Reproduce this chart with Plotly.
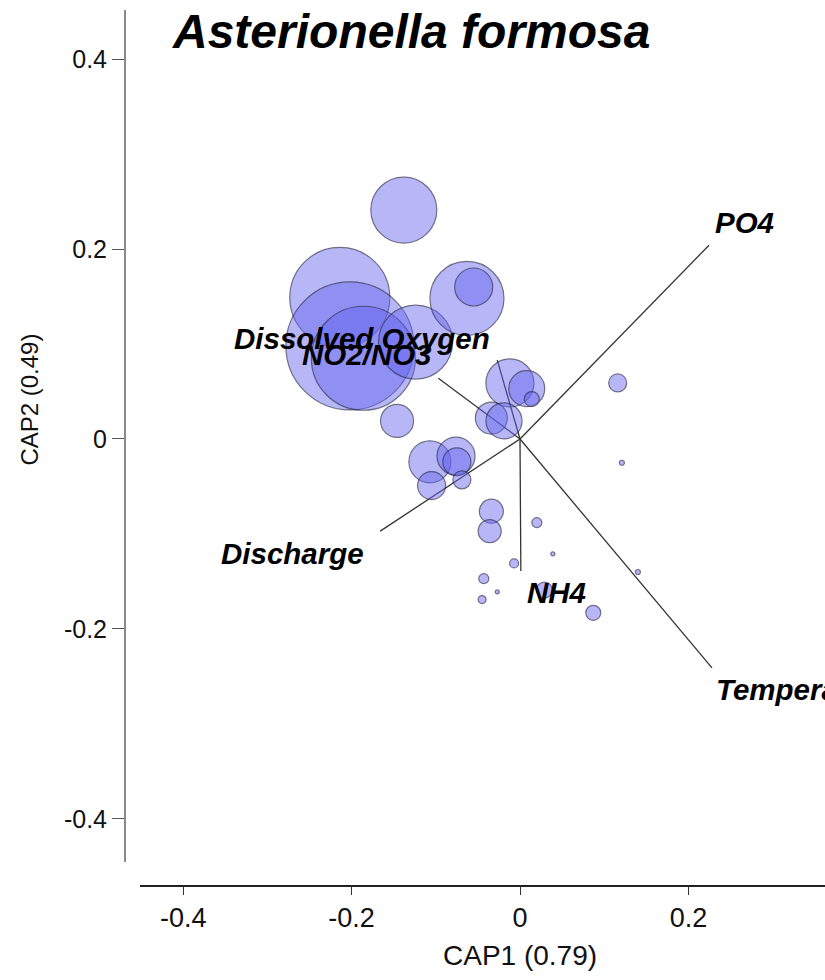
import plotly.graph_objects as go

# ---- data ----
site_cap1 = [-0.138, -0.214, -0.202, -0.186, -0.124, -0.063, -0.055, -0.146,
             -0.012, 0.008, 0.014, -0.034, -0.019, -0.107, -0.076, -0.105,
             -0.075, -0.069, -0.034, -0.036, 0.020, 0.039, -0.007, -0.043,
             -0.027, -0.045, 0.029, 0.087, 0.116, 0.121, 0.140]
site_cap2 = [0.241, 0.149, 0.098, 0.085, 0.102, 0.148, 0.160, 0.019,
             0.059, 0.053, 0.042, 0.022, 0.019, -0.024, -0.018, -0.049,
             -0.024, -0.043, -0.076, -0.097, -0.088, -0.121, -0.131, -0.147,
             -0.161, -0.169, -0.159, -0.183, 0.059, -0.025, -0.140]
abundance = [66, 100, 128, 104, 74, 74, 38, 33,
             48, 36, 15, 32, 36, 42, 38, 28,
             28, 18, 24, 23, 10, 4, 9, 10,
             4, 8, 16, 15, 18, 5, 5]

vec_names = ["PO4", "Temperature", "NH4", "Discharge", "Dissolved Oxygen", "NO2/NO3"]
vec_cap1 = [0.2245, 0.228, 0.001, -0.166, -0.027, -0.097]
vec_cap2 = [0.204, -0.241, -0.139, -0.097, 0.083, 0.064]

x_ticks = [-0.4, -0.2, 0, 0.2]
x_ticktext = ["-0.4", "-0.2", "0", "0.2"]
y_ticks = [-0.4, -0.2, 0, 0.2, 0.4]
y_ticktext = ["-0.4", "-0.2", "0", "0.2", "0.4"]

# ---- label placement (style) ----
label_style = {
    "PO4": dict(xanchor="center", xshift=35, yshift=23),
    "Temperature": dict(xanchor="left", xshift=2, yshift=-22),
    "NH4": dict(xanchor="center", xshift=36, yshift=-21),
    "Discharge": dict(xanchor="right", xshift=-14, yshift=-22),
    "Dissolved Oxygen": dict(xanchor="right", xshift=-5, yshift=22),
    "NO2/NO3": dict(xanchor="right", xshift=-4, yshift=24),
}

fig = go.Figure()

# vectors
vx, vy = [], []
for a, b in zip(vec_cap1, vec_cap2):
    vx += [0, a, None]
    vy += [0, b, None]
fig.add_trace(go.Scatter(x=vx, y=vy, mode="lines",
                         line=dict(color="#333333", width=1.3),
                         hoverinfo="skip", showlegend=False))

# bubbles
fig.add_trace(go.Scatter(
    x=site_cap1, y=site_cap2, mode="markers",
    marker=dict(size=abundance, sizemode="diameter", sizeref=1,
                color="rgba(100,100,240,0.66)",
                line=dict(color="rgba(40,40,80,0.95)", width=1.2)),
    showlegend=False))

lab_font = dict(family="Liberation Sans", size=29.5, color="black",
                weight="bold", style="italic")
for n, a, b in zip(vec_names, vec_cap1, vec_cap2):
    s = label_style[n]
    fig.add_annotation(x=a, y=b, xref="x", yref="y", text=n, showarrow=False,
                       font=lab_font, xanchor=s["xanchor"], yanchor="middle",
                       xshift=s["xshift"], yshift=s["yshift"])

# title
fig.add_annotation(text="Asterionella formosa", xref="paper", yref="paper",
                   x=0.064, y=0.976, xanchor="left", yanchor="middle",
                   showarrow=False,
                   font=dict(family="Liberation Sans", size=48, color="black",
                             weight="bold", style="italic"))
# axis titles
fig.add_annotation(text="CAP1 (0.79)", xref="x", yref="paper", x=0, y=-0.079,
                   xanchor="center", yanchor="middle", showarrow=False,
                   font=dict(family="Liberation Sans", size=28, color="#111"))
fig.add_annotation(text="CAP2 (0.49)", xref="paper", yref="paper", x=-0.136, y=0.555,
                   xanchor="center", yanchor="middle", showarrow=False, textangle=-90,
                   font=dict(family="Liberation Sans", size=24, color="#111"))

fig.update_layout(
    width=825, height=980,
    margin=dict(l=125, r=0, t=10, b=94),
    paper_bgcolor="white", plot_bgcolor="white",
    xaxis=dict(domain=[0.0214, 1], range=[-0.4513, 0.3622], anchor="free", position=0,
               showline=True, linecolor="#222", linewidth=1.5,
               ticks="outside", ticklen=8, tickcolor="#333",
               tickvals=x_ticks, ticktext=x_ticktext,
               tickfont=dict(family="Liberation Sans", size=27, color="#111"),
               showgrid=False, zeroline=False),
    yaxis=dict(domain=[0.0274, 1], range=[-0.4453, 0.4516], anchor="free", position=0,
               showline=True, linecolor="#8a8a8a", linewidth=2,
               ticks="outside", ticklen=12, tickcolor="#555",
               tickvals=y_ticks, ticktext=y_ticktext,
               tickfont=dict(family="Liberation Sans", size=25, color="#111"),
               showgrid=False, zeroline=False),
)

fig.write_html("out.html")
